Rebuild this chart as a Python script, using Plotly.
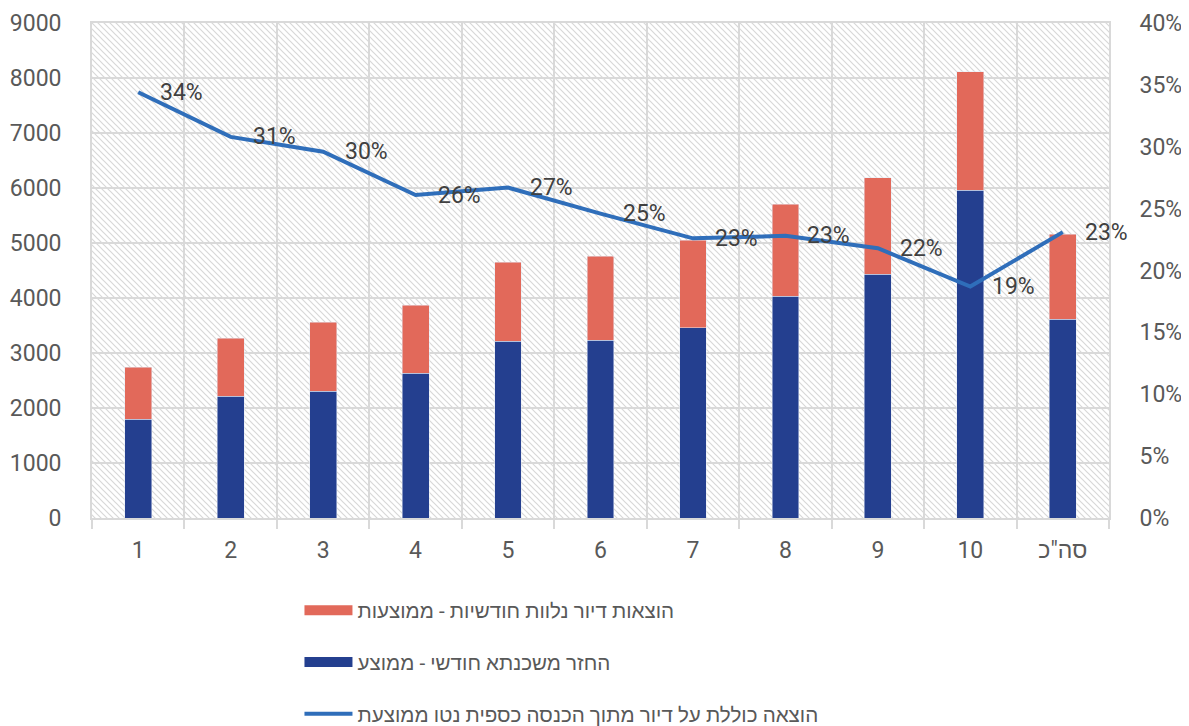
import base64
import plotly.graph_objects as go

categories = ["1", "2", "3", "4", "5", "6", "7", "8", "9", "10", 'סה"כ']
mortgage = [1795, 2218, 2309, 2630, 3218, 3231, 3455, 4036, 4436, 5958, 3613]
totals = [2740, 3267, 3558, 3867, 4649, 4758, 5049, 5709, 6189, 8116, 5158]
extra = [t - m for t, m in zip(totals, mortgage)]
share = [0.344, 0.308, 0.296, 0.261, 0.267, 0.246, 0.226, 0.228, 0.218, 0.187, 0.231]

name_extra = "הוצאות דיור נלוות חודשיות - ממוצעות"
name_mort = "החזר משכנתא חודשי - ממוצע"
name_share = "הוצאה כוללת על דיור מתוך הכנסה כספית נטו ממוצעת"

BLUE = "#243f8f"
RED = "#e2695a"
LINE = "#2f6eba"
GRID = "#d9d9d9"
TXT = "#595959"
FONT = "Roboto, Liberation Sans, Arial, sans-serif"

# page body has an 8px margin, so the figure is shifted by 8px
W, H = 1181, 718
ML, MR, MT, MB = 84, 80, 15, 208
PW, PH = W - ML - MR, H - MT - MB

P = 6
svg = (
    f'<svg xmlns="http://www.w3.org/2000/svg" width="{PW}" height="{PH}" viewBox="0 0 {PW} {PH}">'
    f'<defs><pattern id="h" patternUnits="userSpaceOnUse" width="{P}" height="{P}">'
    f'<path d="M0,0 L{P},{P} M{-P},0 L{P},{2*P} M0,{-P} L{2*P},{P}" stroke="#d8d8d8" stroke-width="1.2"/>'
    f'</pattern></defs><rect width="{PW}" height="{PH}" fill="url(#h)"/></svg>'
)
src = "data:image/svg+xml;base64," + base64.b64encode(svg.encode()).decode()

fig = go.Figure()
fig.add_trace(go.Bar(x=categories, y=mortgage, name=name_mort, marker_color=BLUE,
                     showlegend=False, hoverinfo="y"))
fig.add_trace(go.Bar(x=categories, y=extra, name=name_extra, marker_color=RED,
                     showlegend=False, hoverinfo="y"))
fig.add_trace(go.Scatter(x=categories, y=share, name=name_share, mode="lines",
                         line=dict(color=LINE, width=4), yaxis="y2",
                         legendrank=3, legendgroup="c"))
# legend swatches
fig.add_trace(go.Scatter(x=[None], y=[None], mode="lines", name=name_extra,
                         line=dict(color=RED, width=16), legendrank=1, legendgroup="a"))
fig.add_trace(go.Scatter(x=[None], y=[None], mode="lines", name=name_mort,
                         line=dict(color=BLUE, width=16), legendrank=2, legendgroup="b"))

for i, v in enumerate(share):
    fig.add_annotation(x=i, y=v, xref="x", yref="y2", text=f"{round(v*100)}%", showarrow=False,
                       xanchor="left", yanchor="middle", xshift=20,
                       font=dict(family=FONT, size=23, color="#404040"))

fig.add_layout_image(dict(source=src, xref="paper", yref="paper", x=0, y=1,
                          sizex=1, sizey=1, xanchor="left", yanchor="top",
                          sizing="stretch", layer="below"))

fig.update_layout(
    width=W, height=H,
    margin=dict(l=ML, r=MR, t=MT, b=MB, autoexpand=False),
    barmode="stack", bargap=0.71,
    paper_bgcolor="white", plot_bgcolor="rgba(0,0,0,0)",
    font=dict(family=FONT, size=23, color=TXT),
    showlegend=True,
    legend=dict(orientation="v", x=0.204, xanchor="left", y=-0.146, yanchor="top",
                font=dict(family=FONT, size=20.6, color=TXT), itemwidth=48,
                tracegroupgap=22, bgcolor="rgba(0,0,0,0)"),
    xaxis=dict(type="category", tickson="boundaries", ticks="outside", ticklen=9,
               tickcolor=GRID, tickwidth=1.5, showgrid=True, gridcolor=GRID, gridwidth=1.8,
               showline=True, linecolor=GRID, linewidth=1.8, mirror=True, automargin=False,
               tickfont=dict(size=23, color=TXT), ticklabelstandoff=10,
               range=[-0.5, 10.5]),
    yaxis=dict(range=[0, 9000], dtick=1000, showgrid=True, gridcolor=GRID, gridwidth=1.8,
               zeroline=False, showline=True, linecolor=GRID, linewidth=1.8, automargin=False,
               tickfont=dict(size=23, color=TXT), ticklabelstandoff=24),
    yaxis2=dict(range=[0, 0.4], dtick=0.05, tickformat=".0%", overlaying="y", side="right",
                showgrid=False, zeroline=False, showline=True, linecolor=GRID, linewidth=1.8,
                automargin=False,
                tickfont=dict(size=23, color=TXT), ticklabelstandoff=24),
)

fig.write_html("out.html")
